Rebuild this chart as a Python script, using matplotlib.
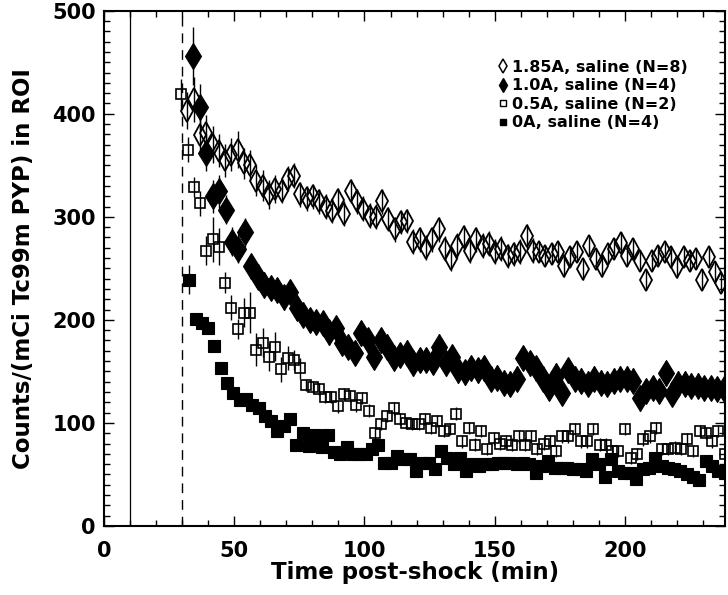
#!/usr/bin/env python3
"""
Uptake curves: counts per mCi Tc99m PYP in the ROI versus time post-shock,
for four shock strengths (saline controls).
"""

import numpy as np
import matplotlib
matplotlib.use("Agg")
import matplotlib.pyplot as plt
from matplotlib.lines import Line2D
from matplotlib.ticker import MultipleLocator

# Series values (counts / mCi in ROI)
counts_185 = [403, 414, 379, 381, 370, 364, 355, 360, 365, 352, 350, 335, 330, 322, 327,
              325, 337, 340, 322, 318, 320, 315, 310, 306, 316, 303, 325,
              315, 308, 301, 300, 315, 298, 288, 295, 296, 276, 278, 270, 278, 288,
              269, 259, 272, 280, 267, 278, 272, 274, 266, 269, 262, 264, 266, 281, 267,
              266, 262, 264, 266, 252, 261, 266, 249, 272, 259, 252, 264, 269, 275,
              262, 269, 257, 239, 257, 262, 266, 261, 251, 261, 257, 259, 239, 261, 246, 236]
err_185 = [18, 22, 20, 18, 18, 16, 16, 16, 18, 15, 15, 15, 15, 14, 14] + [12] * 41 + [10] * 30

counts_10 = [456, 407, 362, 320, 325, 307, 276, 269, 285, 252, 242, 234, 231, 229, 222,
             227, 212, 205, 200, 198, 197, 188, 192, 178, 174, 168, 187, 180, 164, 180,
             174, 163, 166,
             168, 158, 161, 161, 159, 174, 158, 164, 151, 149, 153, 151, 153, 143, 144,
             139, 138, 143, 163, 158, 153, 143, 134, 146, 129, 151, 143, 141, 138, 143,
             139, 138, 141, 143, 143, 141, 124, 131, 134, 131, 148, 128, 138, 138, 136,
             136, 134, 134, 133, 133]
err_10 = [28, 22, 18, 16, 16, 14, 14, 14, 14] + [12] * 74

counts_05 = [419, 365, 329, 313, 267, 278, 271, 236, 212, 191, 207, 207, 171, 178, 164,
             174, 152, 163, 161, 153, 137, 135, 133, 125, 125, 116, 128, 126, 117, 124,
             112, 90, 99, 107, 114, 104, 100, 99, 99, 104, 95, 102, 92, 94, 109,
             82, 95, 79, 92, 75, 85, 80, 82, 79, 87, 79, 87, 75, 80, 82,
             73, 87, 87, 94, 82, 82, 94, 79, 79, 73, 73, 94, 66, 70, 84,
             87, 95, 75, 75, 76, 75, 84, 73, 92, 90, 82, 92, 70]
err_05 = [15, 12, 10, 12, 14, 22, 18, 10, 12, 10, 14, 20, 16, 14, 14, 14, 12, 12, 10, 10] + [6] * 68

counts_0 = [239, 201, 197, 192, 175, 153, 139, 129, 122, 123, 117, 114, 107, 102, 92,
            97, 104, 79, 90, 78, 88, 77, 88, 72, 70, 77, 70, 70, 70, 75,
            79, 61, 61, 68, 65, 65, 53, 61, 61, 55, 73, 66, 60, 66, 53,
            60, 58, 60, 60, 61, 61, 61, 60, 61, 60, 51, 58, 63, 56, 56,
            56, 55, 55, 53, 65, 60, 48, 65, 53, 51, 51, 46, 55, 56, 66,
            58, 56, 55, 53, 50, 48, 45, 63, 58, 53, 51]
err_0 = [14, 6, 6, 6] + [4] * 82

# first / last sampling time of each series (min post-shock)
t_range_185 = (32.0, 237.0)
t_range_10 = (34.2, 238.0)
t_range_05 = (29.7, 238.3)
t_range_0 = (32.7, 238.3)

labels = ["1.85A, saline (N=8)", "1.0A, saline (N=4)",
          "0.5A, saline (N=2)", "0A, saline (N=4)"]

injection_time = 10   # solid line
scan_start = 30       # dashed line


def sample_times(t_range, n):
    return np.linspace(t_range[0], t_range[1], n)


def main():
    plt.rcParams["font.family"] = ["DejaVu Sans"]
    plt.rcParams["font.weight"] = "bold"

    fig = plt.figure(figsize=(7.28, 5.95), dpi=100)
    ax = fig.add_axes([0.143, 0.116, 0.853, 0.866])

    ax.axvline(injection_time, color="black", lw=0.9)
    ax.axvline(scan_start, color="black", lw=1.0, ls=(0, (7, 5)))

    series = [
        (counts_185, err_185, t_range_185, dict(marker="d", ms=11, mfc="none", mec="black", mew=1.3)),
        (counts_10, err_10, t_range_10, dict(marker="d", ms=13, mfc="black", mec="black", mew=0.8)),
        (counts_05, err_05, t_range_05, dict(marker="s", ms=7.5, mfc="none", mec="black", mew=1.2)),
        (counts_0, err_0, t_range_0, dict(marker="s", ms=8, mfc="black", mec="black", mew=0.8)),
    ]
    for vals, errs, t_range, style in series:
        t = sample_times(t_range, len(vals))
        ax.errorbar(t, vals, yerr=errs, ls="none", ecolor="black", elinewidth=1.0,
                    capsize=0, **style)

    ax.set_xlim(0, 238.5)
    ax.set_ylim(0, 500)
    ax.xaxis.set_major_locator(MultipleLocator(50))
    ax.xaxis.set_minor_locator(MultipleLocator(10))
    ax.yaxis.set_major_locator(MultipleLocator(100))
    ax.yaxis.set_minor_locator(MultipleLocator(10))
    ax.tick_params(which="both", direction="in", top=True, right=True, width=1.0)
    ax.tick_params(which="major", length=7)
    ax.tick_params(which="minor", length=4)
    ax.tick_params(axis="x", which="major", labelsize=15, pad=11)
    ax.tick_params(axis="y", which="major", labelsize=15, pad=6)
    for lab in ax.get_xticklabels() + ax.get_yticklabels():
        lab.set_fontweight("bold")
    for sp in ax.spines.values():
        sp.set_linewidth(1.5)

    ax.set_xlabel("Time post-shock (min)", fontsize=16.5, fontweight="bold", labelpad=0)
    ax.set_ylabel("Counts/(mCi Tc99m PYP) in ROI", fontsize=16.5, fontweight="bold", labelpad=12)

    handles = [
        Line2D([], [], ls="none", marker="d", ms=7.5, mfc="none", mec="black", mew=1.1),
        Line2D([], [], ls="none", marker="d", ms=7.5, mfc="black", mec="black"),
        Line2D([], [], ls="none", marker="s", ms=5, mfc="none", mec="black", mew=1.0),
        Line2D([], [], ls="none", marker="s", ms=5, mfc="black", mec="black"),
    ]
    ax.legend(handles, labels, loc="upper left", bbox_to_anchor=(0.634, 0.905),
              frameon=False, handlelength=0.6, handletextpad=0.3, labelspacing=0.22,
              borderaxespad=0, borderpad=0,
              prop={"family": "DejaVu Sans", "weight": "bold", "size": 11.5})

    fig.savefig("out.png", dpi=100)


if __name__ == "__main__":
    main()
